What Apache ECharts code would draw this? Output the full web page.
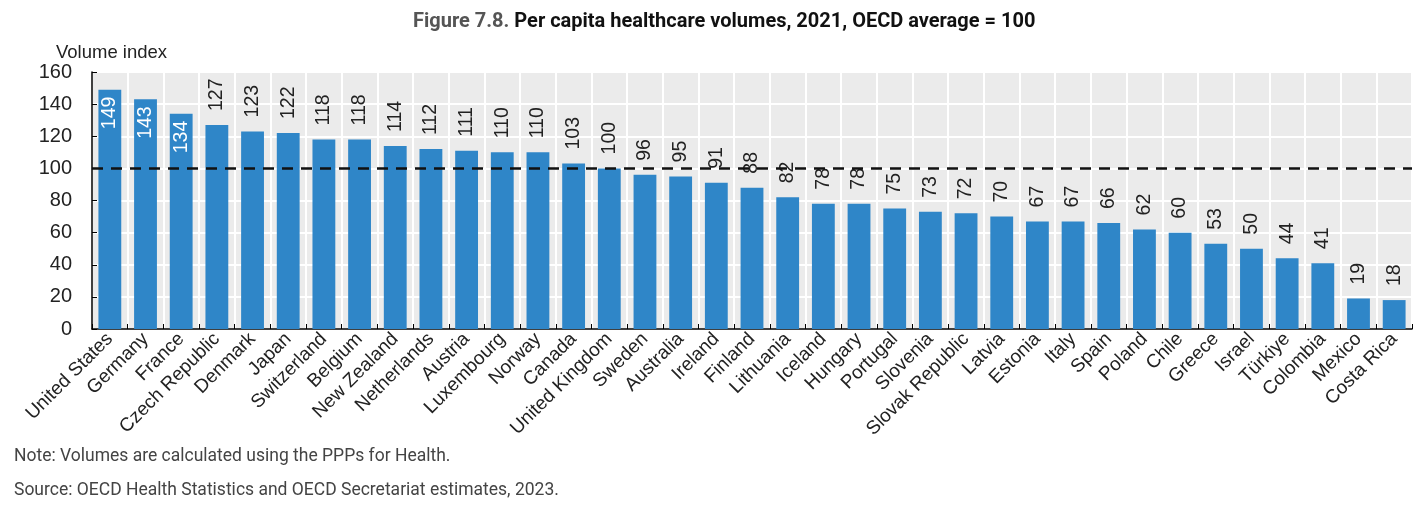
<!DOCTYPE html>
<html><head><meta charset="utf-8">
<script src="https://cdn.jsdelivr.net/npm/echarts@6/dist/echarts.min.js"></script>
<style>html,body{margin:0;padding:0;background:#fff}#c{width:1416px;height:508px}</style>
</head><body><div id="c"></div>
<script>
var countries = ["United States","Germany","France","Czech Republic","Denmark","Japan","Switzerland","Belgium","New Zealand","Netherlands","Austria","Luxembourg","Norway","Canada","United Kingdom","Sweden","Australia","Ireland","Finland","Lithuania","Iceland","Hungary","Portugal","Slovenia","Slovak Republic","Latvia","Estonia","Italy","Spain","Poland","Chile","Greece","Israel","Türkiye","Colombia","Mexico","Costa Rica"];
var values = [149,143,134,127,123,122,118,118,114,112,111,110,110,103,100,96,95,91,88,82,78,78,75,73,72,70,67,67,66,62,60,53,50,44,41,19,18];
var insideCount = 3;
var oecdAverage = 100;
var yTicks = [0,20,40,60,80,100,120,140,160];

var chart = echarts.init(document.getElementById('c'), null, {renderer:'canvas'});
var font = 'Liberation Sans, Arial, sans-serif';
var data = values.map(function(v,i){
  if (i < insideCount) {
    return {value:v, label:{position:'insideTop', rotate:90, align:'right', verticalAlign:'middle', color:'#fff', distance:7}};
  }
  return {value:v};
});
chart.setOption({
  animation:false,
  title:{
    text:'{a|Figure 7.8. }{b|Per capita healthcare volumes, 2021, OECD average = 100}',
    left:408, top:7,
    textStyle:{rich:{
      a:{fontFamily:'Roboto, sans-serif', fontSize:20, color:'#555'},
      b:{fontFamily:'Roboto, sans-serif', fontSize:20, fontWeight:'bold', color:'#111'}
    }}
  },
  graphic:[
    {type:'text', left:14, top:448, style:{text:'Note: Volumes are calculated using the PPPs for Health.', font:'17.5px Roboto, sans-serif', fill:'#444'}},
    {type:'text', left:14, top:482, style:{text:'Source: OECD Health Statistics and OECD Secretariat estimates, 2023.', font:'17.5px Roboto, sans-serif', fill:'#444'}}
  ],
  grid:{left:92, right:4, top:72, bottom:179, show:true, backgroundColor:'#ebebeb', borderWidth:0},
  xAxis:{
    type:'category', data:countries,
    axisLine:{lineStyle:{color:'#000', width:1.5}},
    axisTick:{show:true, inside:true, length:5, lineStyle:{color:'#000'}},
    splitLine:{show:true, lineStyle:{color:'#fff', width:2}},
    axisLabel:{rotate:45, interval:0, fontFamily:font, fontSize:19, color:'#222', margin:7}
  },
  yAxis:{
    type:'value', min:0, max:160, interval:20,
    name:'Volume index', nameLocation:'end', nameGap:10,
    nameTextStyle:{fontFamily:font, fontSize:18.5, color:'#222', align:'left', padding:[0,0,0,-36]},
    axisLine:{show:true, lineStyle:{color:'#000', width:1.5}},
    axisTick:{show:true, inside:true, length:5, lineStyle:{color:'#000'}},
    splitLine:{show:true, lineStyle:{color:'#fff', width:2}},
    axisLabel:{fontFamily:font, fontSize:20, color:'#222', margin:20, align:'right',
      formatter:function(v){return yTicks.indexOf(v)>=0?String(v):'';}}
  },
  series:[{
    type:'bar', data:data, barWidth:'64%',
    itemStyle:{color:'#2f86c8'},
    label:{show:true, position:'top', rotate:90, align:'left', verticalAlign:'middle', distance:14,
      fontFamily:font, fontSize:19.5, color:'#222'},
    markLine:{
      silent:true, symbol:'none',
      label:{show:false},
      lineStyle:{color:'#111', type:[11,8], width:2.5},
      data:[{yAxis:oecdAverage}]
    },
    z:3
  }]
});
</script></body></html>
